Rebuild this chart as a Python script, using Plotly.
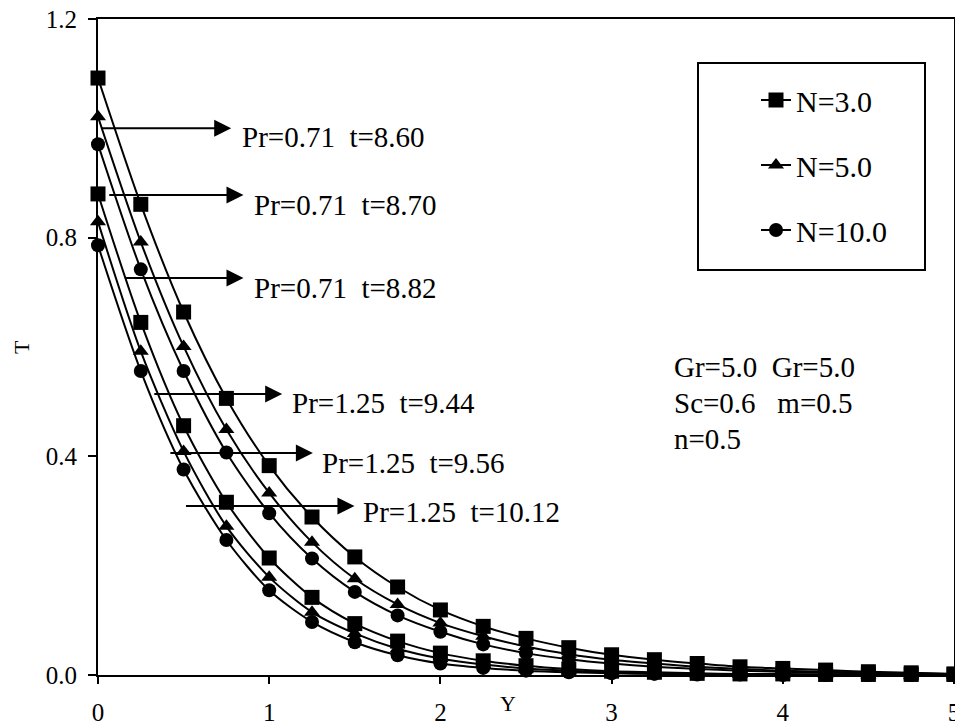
import plotly.graph_objects as go

# ---- data ----
y_pos = [0, 0.25, 0.5, 0.75, 1.0, 1.25, 1.5, 1.75, 2.0, 2.25, 2.5,
         2.75, 3.0, 3.25, 3.5, 3.75, 4.0, 4.25, 4.5, 4.75, 5.0]

# Pr = 0.71
T_pr071_N3 = [1.092, 0.861, 0.664, 0.506, 0.383, 0.289, 0.216, 0.161, 0.119, 0.089, 0.067,
              0.050, 0.037, 0.028, 0.021, 0.015, 0.012, 0.009, 0.006, 0.004, 0.002]
T_pr071_N5 = [1.021, 0.792, 0.601, 0.449, 0.333, 0.243, 0.176, 0.129, 0.095, 0.071, 0.052,
              0.038, 0.028, 0.021, 0.015, 0.011, 0.008, 0.006, 0.004, 0.003, 0.002]
T_pr071_N10 = [0.971, 0.742, 0.556, 0.407, 0.296, 0.213, 0.152, 0.109, 0.079, 0.056, 0.040,
               0.029, 0.021, 0.015, 0.011, 0.008, 0.006, 0.004, 0.003, 0.002, 0.001]
# Pr = 1.25
T_pr125_N3 = [0.880, 0.645, 0.456, 0.316, 0.214, 0.142, 0.094, 0.062, 0.040, 0.026, 0.017,
              0.011, 0.007, 0.005, 0.003, 0.002, 0.002, 0.001, 0.001, 0.001, 0.001]
T_pr125_N5 = [0.829, 0.592, 0.409, 0.272, 0.179, 0.115, 0.076, 0.048, 0.030, 0.019, 0.012,
              0.008, 0.005, 0.003, 0.002, 0.001, 0.001, 0.001, 0.000, 0.000, 0.000]
T_pr125_N10 = [0.786, 0.556, 0.376, 0.247, 0.155, 0.097, 0.060, 0.036, 0.021, 0.013, 0.008,
               0.005, 0.003, 0.002, 0.001, 0.001, 0.000, 0.000, 0.000, 0.000, 0.000]

series_names = ["N=3.0", "N=5.0", "N=10.0"]
series_symbols = ["square", "triangle-up", "circle"]
series_sizes = [15, 14, 14]

curve_labels = ["Pr=0.71\u00a0\u00a0t=8.60", "Pr=0.71\u00a0\u00a0t=8.70", "Pr=0.71\u00a0\u00a0t=8.82",
                "Pr=1.25\u00a0\u00a0t=9.44", "Pr=1.25\u00a0\u00a0t=9.56", "Pr=1.25\u00a0\u00a0t=10.12"]
param_lines = ["Gr=5.0\u00a0\u00a0Gr=5.0", "Sc=0.6\u00a0\u00a0\u00a0m=0.5", "n=0.5"]

x_ticks = [0, 1, 2, 3, 4, 5]
y_ticks = [0.0, 0.4, 0.8, 1.2]

FONT = "Liberation Serif, Times New Roman, serif"

# page body has an 8px margin: figure occupies screen px 8..963 x 8..726
W, H = 955, 718
ML, MR, MT, MB = 90, 9, 11, 51
PW = W - ML - MR   # 856
PH = H - MT - MB   # 656
OX, OY = 8 + ML, 8 + MT  # screen position of plot area top-left


def px_x(sx):
    return (sx - OX) / PW


def px_y(sy):
    return 1 - (sy - OY) / PH


fig = go.Figure()

groups = [
    (T_pr071_N3, 0, True), (T_pr071_N5, 1, True), (T_pr071_N10, 2, True),
    (T_pr125_N3, 0, False), (T_pr125_N5, 1, False), (T_pr125_N10, 2, False),
]
for vals, k, show in groups:
    fig.add_trace(go.Scatter(
        x=y_pos, y=vals, mode="lines+markers",
        name=series_names[k], legendgroup=series_names[k], showlegend=show,
        line=dict(color="black", width=2, shape="spline", smoothing=0.8),
        marker=dict(symbol=series_symbols[k], size=series_sizes[k], color="black",
                    line=dict(width=0)),
        cliponaxis=False,
    ))

arrow_specs = [  # (tail_x, head_x, y)
    (0.01, 0.778, 1.000),
    (0.057, 0.850, 0.878),
    (0.155, 0.850, 0.726),
    (0.320, 1.076, 0.514),
    (0.414, 1.255, 0.406),
    (0.505, 1.498, 0.309),
]
label_specs = [  # (left_x, center_y)
    (0.827, 0.984), (0.897, 0.860), (0.897, 0.708),
    (1.119, 0.497), (1.294, 0.387), (1.539, 0.298),
]
annotations = []
for (tx, hx, yy) in arrow_specs:
    annotations.append(dict(
        x=hx, y=yy, ax=tx, ay=yy, xref="x", yref="y", axref="x", ayref="y",
        text="", showarrow=True, arrowhead=2, arrowsize=1.7, arrowwidth=2,
        arrowcolor="black", standoff=0, startstandoff=0))
for (lx, ly), txt in zip(label_specs, curve_labels):
    annotations.append(dict(
        x=lx, y=ly, xref="x", yref="y", text=txt, showarrow=False,
        xanchor="left", yanchor="middle",
        font=dict(family=FONT, size=29, color="black")))

for txt, sy in zip(param_lines, [367, 403, 439]):
    annotations.append(dict(
        x=px_x(672), y=px_y(sy), xref="paper", yref="paper",
        text=txt, showarrow=False, align="left",
        xanchor="left", yanchor="middle",
        font=dict(family=FONT, size=29, color="black")))

# axis titles
annotations.append(dict(
    x=px_x(21), y=px_y(347), xref="paper", yref="paper",
    text="T", showarrow=False, textangle=-90, xanchor="center", yanchor="middle",
    font=dict(family=FONT, size=22, color="black")))
annotations.append(dict(
    x=px_x(508), y=px_y(703), xref="paper", yref="paper",
    text="Y", showarrow=False, xanchor="center", yanchor="middle",
    font=dict(family=FONT, size=22, color="black")))

fig.update_layout(
    width=W, height=H,
    margin=dict(l=ML, r=MR, t=MT, b=MB, autoexpand=False),
    plot_bgcolor="white", paper_bgcolor="white",
    font=dict(family=FONT, size=25, color="black"),
    annotations=annotations,
    showlegend=True,
    legend=dict(
        x=px_x(756), y=px_y(74), xanchor="left", yanchor="top",
        bgcolor="rgba(0,0,0,0)", borderwidth=0,
        font=dict(family=FONT, size=30, color="black"),
        tracegroupgap=23, traceorder="grouped",
    ),
    shapes=[dict(type="rect", xref="paper", yref="paper",
                 x0=px_x(698), x1=px_x(925),
                 y0=px_y(270), y1=px_y(63),
                 line=dict(color="black", width=2), fillcolor="white", layer="below")],
)

fig.update_xaxes(
    range=[0, 5], tickvals=x_ticks, ticktext=[str(v) for v in x_ticks],
    showline=True, linecolor="black", linewidth=2, mirror=True,
    ticks="outside", ticklen=7, tickwidth=1.5, tickcolor="black",
    showgrid=False, zeroline=False, ticklabelstandoff=7, automargin=False,
    ticklabeloverflow="allow",
    tickfont=dict(family=FONT, size=25, color="black"),
)
fig.update_yaxes(
    range=[0, 1.2], tickvals=y_ticks, ticktext=[f"{v:.1f}" for v in y_ticks],
    showline=True, linecolor="black", linewidth=2, mirror=True,
    ticks="outside", ticklen=8, tickwidth=1.5, tickcolor="black",
    showgrid=False, zeroline=False, ticklabelstandoff=6, automargin=False,
    ticklabeloverflow="allow",
    tickfont=dict(family=FONT, size=25, color="black"),
)

fig.write_html("out.html")
